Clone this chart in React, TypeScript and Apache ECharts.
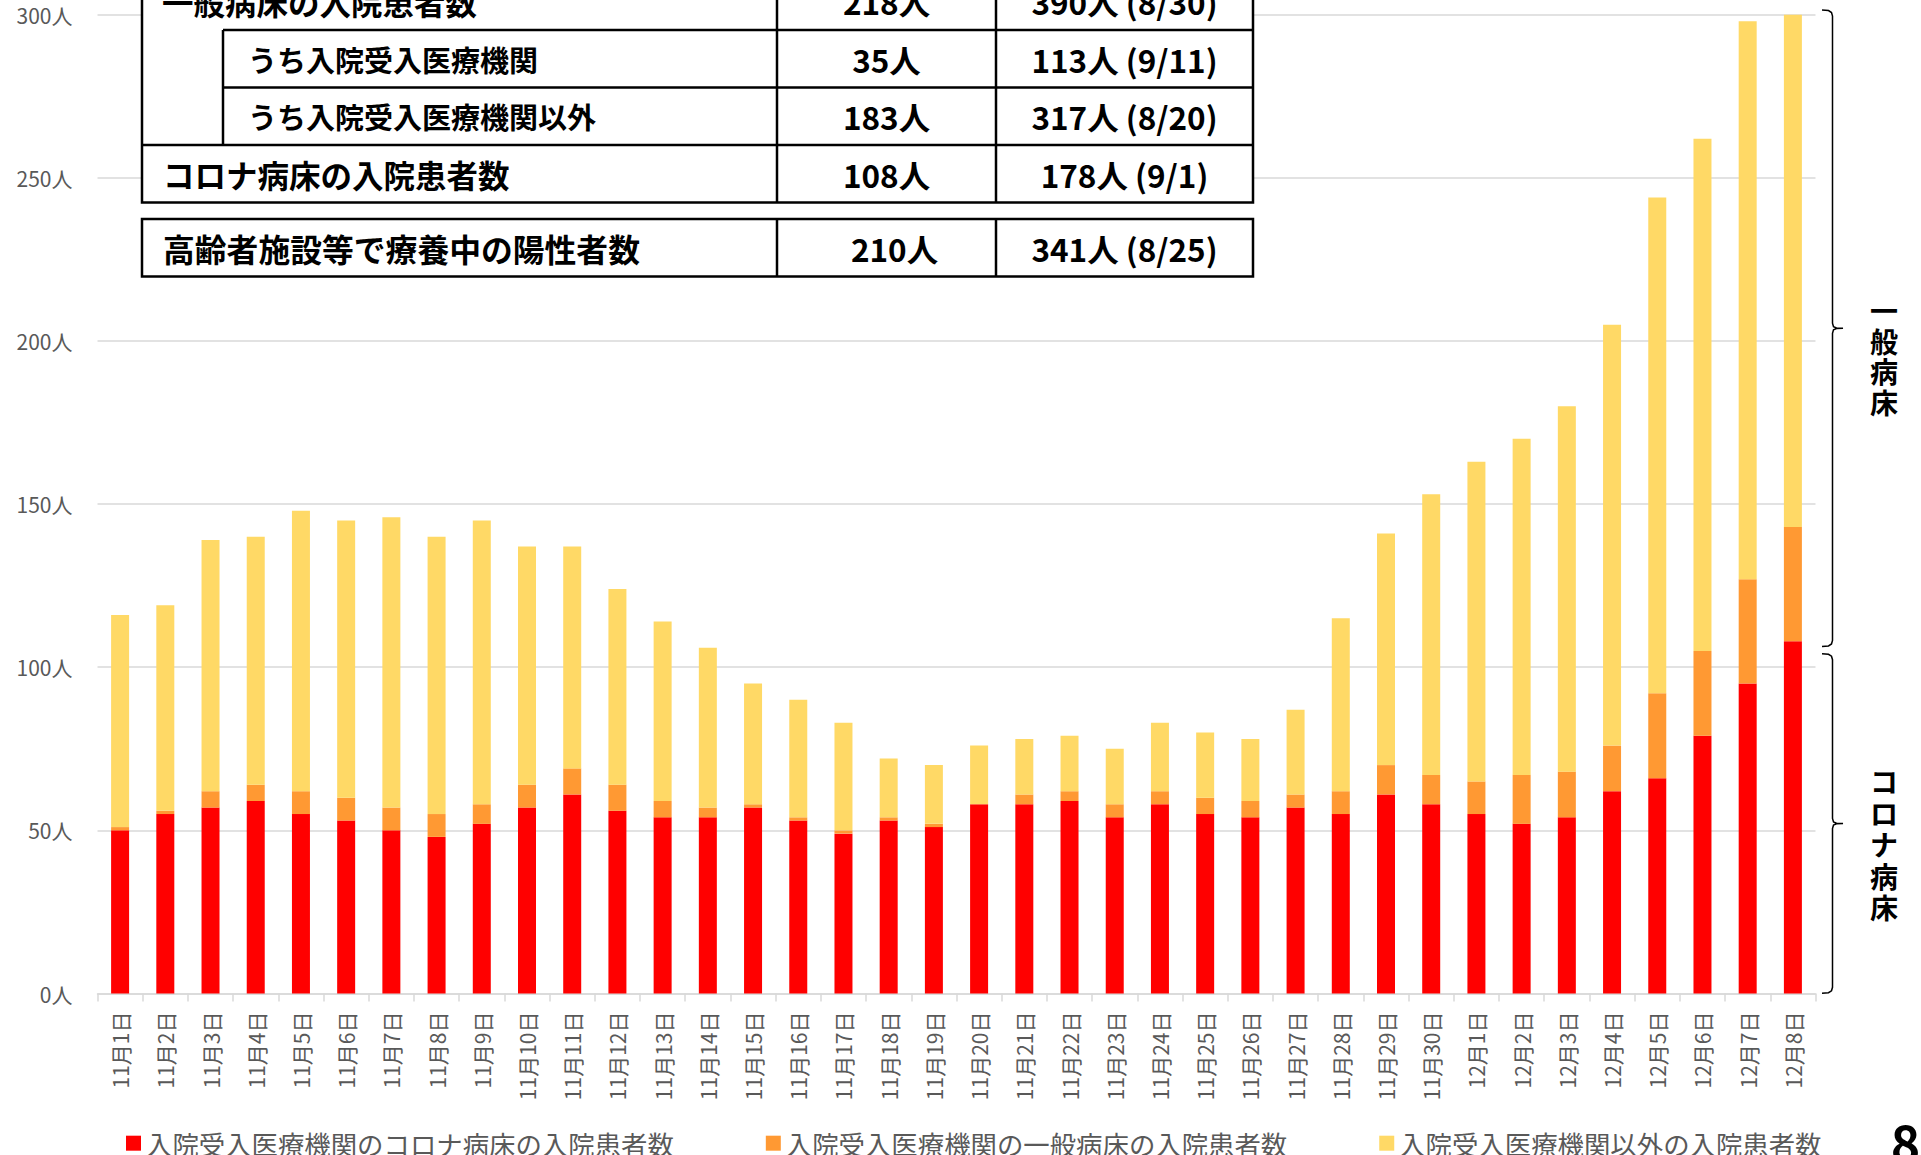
import React, { useEffect, useRef } from "react";
import * as echarts from "echarts";

const categories = [
  "11月1日", "11月2日", "11月3日", "11月4日", "11月5日", "11月6日", "11月7日", "11月8日", "11月9日", "11月10日",
  "11月11日", "11月12日", "11月13日", "11月14日", "11月15日", "11月16日", "11月17日", "11月18日", "11月19日", "11月20日",
  "11月21日", "11月22日", "11月23日", "11月24日", "11月25日", "11月26日", "11月27日", "11月28日", "11月29日", "11月30日",
  "12月1日", "12月2日", "12月3日", "12月4日", "12月5日", "12月6日", "12月7日", "12月8日",
];

const coronaBed = [
  50, 55, 57, 59, 55, 53, 50, 48, 52, 57,
  61, 56, 54, 54, 57, 53, 49, 53, 51, 58,
  58, 59, 54, 58, 55, 54, 57, 55, 61, 58,
  55, 52, 54, 62, 66, 79, 95, 108,
];

const generalBedInHospital = [
  1, 1, 5, 5, 7, 7, 7, 7, 6, 7,
  8, 8, 5, 3, 1, 1, 1, 1, 1, 0,
  3, 3, 4, 4, 5, 5, 4, 7, 9, 9,
  10, 15, 14, 14, 26, 26, 32, 35,
];

const otherHospitals = [
  65, 63, 77, 76, 86, 85, 89, 85, 87, 73,
  68, 60, 55, 49, 37, 36, 33, 18, 18, 18,
  17, 17, 17, 21, 20, 19, 26, 53, 71, 86,
  98, 103, 112, 129, 152, 157, 171, 183,
];

const seriesNames = [
  "入院受入医療機関のコロナ病床の入院患者数",
  "入院受入医療機関の一般病床の入院患者数",
  "入院受入医療機関以外の入院患者数",
];
const seriesColors = ["#FF0000", "#FF9933", "#FFD966"];

const yMin = 0;
const yMax = 300;
const yInterval = 50;

const tableLabels = [
  "一般病床の入院患者数",
  "うち入院受入医療機関",
  "うち入院受入医療機関以外",
  "コロナ病床の入院患者数",
  "高齢者施設等で療養中の陽性者数",
];
const tableCurrent = ["218人", "35人", "183人", "108人", "210人"];
const tablePeak = ["390人 (8/30)", "113人 (9/11)", "317人 (8/20)", "178人 (9/1)", "341人 (8/25)"];

const braceLabels = ["一般病床", "コロナ病床"];
const pageNumber = "8";

const FONT = "'Noto Sans CJK JP', 'Noto Sans', sans-serif";

function txt(text: string, x: number, y: number, size: number, align: string, opts: any = {}) {
  return {
    type: "text",
    z: 20,
    x,
    y,
    style: {
      text,
      fill: opts.fill || "#000",
      fontSize: size,
      fontWeight: opts.weight || "bold",
      fontFamily: FONT,
      align,
      textAlign: align,
      verticalAlign: "middle",
      textVerticalAlign: "middle",
    },
  };
}

function hline(x1: number, x2: number, y: number) {
  return { type: "line", z: 21, shape: { x1, y1: y, x2, y2: y }, style: { stroke: "#000", lineWidth: 2.5 } };
}
function vline(x: number, y1: number, y2: number) {
  return { type: "line", z: 21, shape: { x1: x, y1, x2: x, y2 }, style: { stroke: "#000", lineWidth: 2.5 } };
}

function brace(yTop: number, yBot: number) {
  const xe = 1822;
  const xl = 1832.5;
  const xt = 1843;
  const ym = (yTop + yBot) / 2;
  return {
    type: "polyline",
    z: 20,
    shape: {
      points: [
        [xe, yTop],
        [xl - 4, yTop + 0.6],
        [xl - 1, yTop + 2.5],
        [xl, yTop + 6],
        [xl, ym - 5],
        [xl + 1, ym - 1.5],
        [xl + 4, ym - 0.3],
        [xt, ym],
        [xl + 4, ym + 0.3],
        [xl + 1, ym + 1.5],
        [xl, ym + 5],
        [xl, yBot - 6],
        [xl - 1, yBot - 2.5],
        [xl - 4, yBot - 0.6],
        [xe, yBot],
      ],
    },
    style: { stroke: "#000", lineWidth: 1.5, fill: "none" },
  };
}

export default function App() {
  const ref = useRef<HTMLDivElement>(null);

  useEffect(() => {
    if (!ref.current) return;
    const chart = echarts.init(ref.current, null, { renderer: "svg" });

    const L = 142, IND = 223, C1 = 777, C2 = 996, R = 1253;
    const rows = [-28, 30, 87.5, 145, 202.5];
    const r5 = [219, 276.5];
    const col2c = (C1 + C2) / 2;
    const col3c = (C2 + R) / 2;

    const graphics: any[] = [
      { type: "rect", z: 19, shape: { x: L, y: rows[0], width: R - L, height: rows[4] - rows[0] }, style: { fill: "#fff", stroke: "#000", lineWidth: 2.5 } },
      hline(IND, R, rows[1]),
      hline(IND, R, rows[2]),
      hline(L, R, rows[3]),
      vline(IND, rows[1], rows[3]),
      vline(C1, rows[0], rows[4]),
      vline(C2, rows[0], rows[4]),
      { type: "rect", z: 19, shape: { x: L, y: r5[0], width: R - L, height: r5[1] - r5[0] }, style: { fill: "#fff", stroke: "#000", lineWidth: 2.5 } },
      vline(C1, r5[0], r5[1]),
      vline(C2, r5[0], r5[1]),
    ];
    const rowCenters = [
      (rows[0] + rows[1]) / 2,
      (rows[1] + rows[2]) / 2,
      (rows[2] + rows[3]) / 2,
      (rows[3] + rows[4]) / 2,
      (r5[0] + r5[1]) / 2,
    ];
    const labelX = [162, 248, 248, 163, 163];
    const labelSize = [31.5, 29, 29, 31.5, 31.8];
    const currentX = [col2c, col2c, col2c, col2c, col2c + 8];
    tableLabels.forEach((t, i) => {
      graphics.push(txt(t, labelX[i], rowCenters[i], labelSize[i], "left"));
      graphics.push(txt(tableCurrent[i], currentX[i], rowCenters[i], 31.5, "center"));
      graphics.push(txt(tablePeak[i], col3c, rowCenters[i], 31.5, "center"));
    });

    graphics.push(brace(10, 646.5));
    graphics.push(brace(653.7, 993.3));
    const b1 = braceLabels[0].split("");
    b1.forEach((ch, i) => graphics.push(txt(ch, 1884, 356 + (i - (b1.length - 1) / 2) * 30.5, 28, "center")));
    const b2 = braceLabels[1].split("");
    b2.forEach((ch, i) => graphics.push(txt(ch, 1884, 844 + (i - (b2.length - 1) / 2) * 31.5, 28, "center")));
    graphics.push(txt(pageNumber, 1905.5, 1140, 50, "center"));

    const values = [coronaBed, generalBedInHospital, otherHospitals];

    chart.setOption({
      animation: false,
      backgroundColor: "#ffffff",
      textStyle: { fontFamily: FONT },
      grid: { left: 97.5, right: 105.5, top: 14.7, bottom: 161.5, containLabel: false },
      legend: {
        left: 126,
        top: 1130,
        padding: 0,
        itemWidth: 15,
        itemHeight: 15,
        itemGap: 92,
        icon: "rect",
        data: seriesNames,
        textStyle: { fontSize: 26.4, color: "#595959", fontFamily: FONT },
      },
      xAxis: {
        type: "category",
        data: categories,
        axisLine: { lineStyle: { color: "#D9D9D9", width: 1.5 } },
        axisTick: { show: true, length: 8, lineStyle: { color: "#D9D9D9", width: 1.5 } },
        axisLabel: { rotate: 90, fontSize: 21, color: "#595959", margin: 18, fontFamily: FONT },
      },
      yAxis: {
        type: "value",
        min: yMin,
        max: yMax,
        interval: yInterval,
        axisLine: { show: false },
        axisTick: { show: false },
        splitLine: { lineStyle: { color: "#D9D9D9", width: 1.5 } },
        axisLabel: { formatter: "{value}人", fontSize: 21, color: "#595959", margin: 25, fontFamily: FONT },
      },
      series: seriesNames.map((name, i) => ({
        name,
        type: "bar",
        stack: "total",
        barWidth: 18,
        clip: true,
        itemStyle: { color: seriesColors[i] },
        data: values[i],
      })),
      graphic: { elements: graphics },
    });

    return () => chart.dispose();
  }, []);

  return <div ref={ref} style={{ position: "absolute", left: 0, top: 0, width: 1921, height: 1155 }} />;
}
